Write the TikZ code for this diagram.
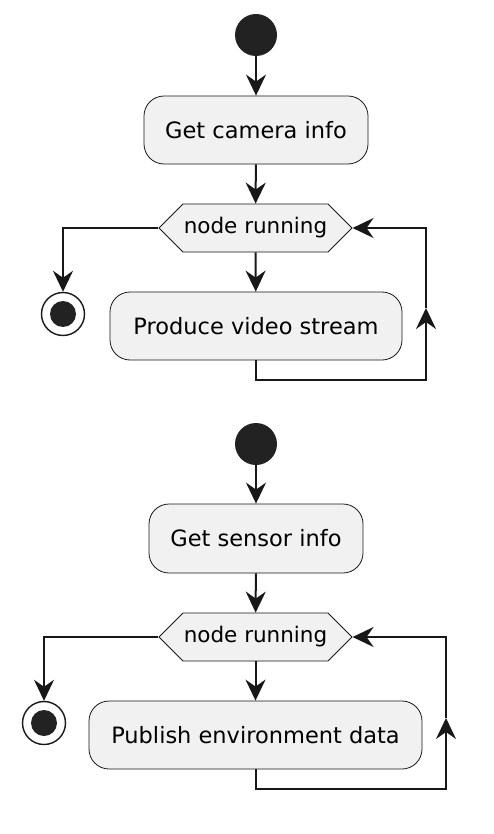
\documentclass[tikz,border=0pt]{standalone}
\usepackage{fontspec}
\setmainfont{DejaVu Sans}
\usetikzlibrary{arrows.meta, shapes.symbols}

\definecolor{actfill}{HTML}{F1F1F1}
\definecolor{actline}{HTML}{181818}
\definecolor{dotfill}{HTML}{222222}

\tikzset{
    activity/.style={draw=actline, fill=actfill, line width=0.8pt, rounded corners=20pt,
        minimum height=68pt, inner xsep=0pt, font=\fontsize{22.5}{26}\selectfont},
    decision/.style={draw=actline, fill=actfill, line width=0.8pt, shape=signal,
        signal to=west and east, signal pointer angle=90, minimum height=48pt,
        inner xsep=0pt, font=\fontsize{21.5}{25}\selectfont},
    startdot/.style={circle, fill=dotfill, minimum size=42pt, inner sep=0pt},
    stopdot/.style={circle, draw=actline, fill=white, line width=1.4pt, minimum size=43pt,
        inner sep=0pt, path picture={\fill[dotfill] (path picture bounding box.center) circle (13pt);}},
    flow/.style={line width=2pt, draw=actline, -{Stealth[length=21pt, width=20pt, inset=7pt]}}
}

\begin{document}
\begin{tikzpicture}[x=1pt, y=-1pt]
    \useasboundingbox (0,0) rectangle (494,834);

    % Camera node
    \node[startdot] (start1) at (256,35) {};
    \node[activity, minimum width=224pt] (cam) at (256,130) {Get camera info};
    \node[decision, minimum width=193pt] (run1) at (255.5,228) {node running};
    \node[stopdot] (stop1) at (63,314) {};
    \node[activity, minimum width=292pt] (video) at (256,326) {Produce video stream};
    \coordinate (back1) at (426,308);

    \draw[flow] (start1) -- (cam);
    \draw[flow] (cam) -- (run1);
    \draw[flow] (run1.west) -| (stop1.north);
    \draw[flow] (run1.south) -- (video);
    \draw[flow] (video.south) -- ++(0,20) -| (back1);
    \draw[flow] (back1) |- (run1.east);

    % Sensor node
    \node[startdot] (start2) at (256,444) {};
    \node[activity, minimum width=214pt, minimum height=69pt] (sensor) at (256,538.5) {Get sensor info};
    \node[decision, minimum width=193pt] (run2) at (255.5,637) {node running};
    \node[stopdot] (stop2) at (44,723) {};
    \node[activity, minimum width=333pt] (env) at (255.5,735) {Publish environment data};
    \coordinate (back2) at (446,718);

    \draw[flow] (start2) -- (sensor);
    \draw[flow] (sensor) -- (run2);
    \draw[flow] (run2.west) -| (stop2.north);
    \draw[flow] (run2.south) -- (env);
    \draw[flow] (env.south) -- ++(0,20) -| (back2);
    \draw[flow] (back2) |- (run2.east);

\end{tikzpicture}
\end{document}
